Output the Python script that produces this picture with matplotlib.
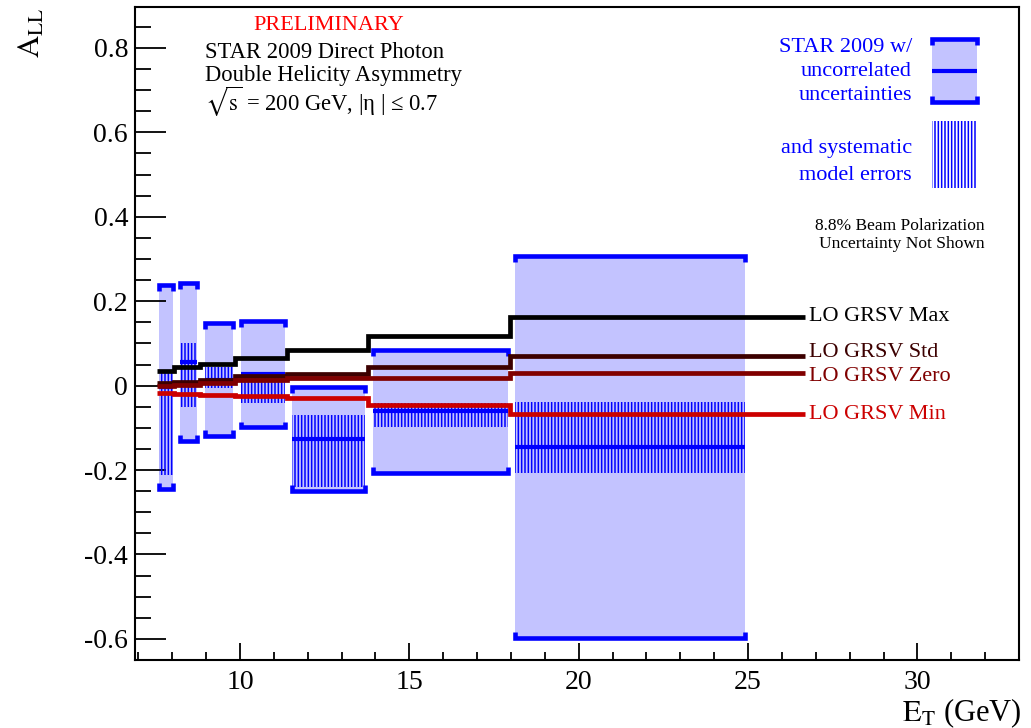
import matplotlib
matplotlib.use('Agg')
import matplotlib.pyplot as plt
from matplotlib.patches import Rectangle
from matplotlib.ticker import MultipleLocator, FuncFormatter

plt.rcParams['font.family'] = 'serif'
plt.rcParams['font.serif'] = ['Liberation Serif', 'DejaVu Serif']
plt.rcParams['mathtext.fontset'] = 'stix'
plt.rcParams['axes.unicode_minus'] = False
plt.rcParams['hatch.linewidth'] = 1.1

W, H = 1031, 728

# STAR 2009 points: E_T extent of each box, A_LL, uncorrelated error, systematic band
box_lo = [7.62, 8.23, 8.97, 10.02, 11.53, 13.92, 18.11]
box_hi = [8.01, 8.74, 9.80, 11.33, 13.69, 17.91, 24.90]
all_val = [-0.003, 0.056, 0.014, 0.027, -0.126, -0.061, -0.145]
stat_err = [0.242, 0.187, 0.134, 0.126, 0.123, 0.146, 0.452]
sys_lo = [-0.212, -0.050, -0.005, -0.042, -0.240, -0.098, -0.207]
sys_hi = [0.032, 0.100, 0.045, 0.030, -0.069, -0.040, -0.038]

# LO GRSV predictions (step curves)
grsv_edges = [7.55, 8.05, 8.82, 9.85, 11.39, 13.78, 17.96, 26.67]
grsv_max = [0.035, 0.045, 0.051, 0.065, 0.084, 0.118, 0.163]
grsv_std = [0.006, 0.009, 0.013, 0.023, 0.028, 0.045, 0.071]
grsv_zero = [0.000, 0.002, 0.006, 0.013, 0.018, 0.019, 0.031]
grsv_min = [-0.018, -0.020, -0.022, -0.024, -0.029, -0.047, -0.068]

# name, values, colour, label nudge in points
curves = [('LO GRSV Max', grsv_max, '#000000', 0),
          ('LO GRSV Std', grsv_std, '#3c0000', 2),
          ('LO GRSV Zero', grsv_zero, '#800000', -3),
          ('LO GRSV Min', grsv_min, '#cc0000', 0)]

BLUE = '#0000ff'
FILL = '#c3c3ff'


def px(x, y):
    return x / W, 1 - y / H


def draw_point(ax, x0, x1, y, err, s_lo, s_hi, hook):
    ax.add_patch(Rectangle((x0, y - err), x1 - x0, 2 * err, facecolor=FILL,
                           edgecolor='none', zorder=1))
    ax.add_patch(Rectangle((x0, s_lo), x1 - x0, s_hi - s_lo, facecolor='none',
                           edgecolor=BLUE, hatch='|||||', linewidth=0, zorder=2))
    ax.plot([x0, x1], [y, y], color=BLUE, lw=3, solid_capstyle='butt', zorder=3)
    top, bot = y + err, y - err
    kw = dict(color=BLUE, lw=3.3, solid_capstyle='butt', solid_joinstyle='miter', zorder=3)
    ax.plot([x0, x0, x1, x1], [top - hook, top, top, top - hook], **kw)
    ax.plot([x0, x0, x1, x1], [bot + hook, bot, bot, bot + hook], **kw)


fig = plt.figure(figsize=(W / 100, H / 100), dpi=100)
ax = fig.add_axes([135 / W, 1 - 660 / H, (1019 - 135) / W, (660 - 7) / H])

for i in range(len(all_val)):
    draw_point(ax, box_lo[i], box_hi[i], all_val[i], stat_err[i], sys_lo[i], sys_hi[i], 0.014)

for name, vals, col, nudge in curves:
    ax.stairs(vals, grsv_edges, baseline=None, color=col, lw=3.4, zorder=4)
    ax.annotate(name, (grsv_edges[-1], vals[-1]), xytext=(3, nudge),
                textcoords='offset points', color=col, fontsize=16,
                ha='left', va='center')

ax.set_xlim(6.9, 33.0)
ax.set_ylim(-0.65, 0.897)
ax.xaxis.set_major_locator(MultipleLocator(5))
ax.xaxis.set_minor_locator(MultipleLocator(1))
ax.yaxis.set_major_locator(MultipleLocator(0.2))
ax.yaxis.set_minor_locator(MultipleLocator(0.05))
ax.xaxis.set_major_formatter(FuncFormatter(lambda v, p: '%d' % round(v)))
ax.yaxis.set_major_formatter(FuncFormatter(lambda v, p: '0' if abs(v) < 1e-9 else '%.1f' % v))
ax.tick_params(axis='y', which='major', direction='in', length=22, width=1.3, labelsize=20, pad=5)
ax.tick_params(axis='y', which='minor', direction='in', length=11.5, width=1.3)
ax.tick_params(axis='x', which='major', direction='in', length=12, width=1.3, labelsize=20, pad=7)
ax.tick_params(axis='x', which='minor', direction='in', length=6, width=1.3)
for sp in ax.spines.values():
    sp.set_linewidth(1.5)

# legend key
legax = fig.add_axes([925 / W, 1 - 195 / H, 60 / W, 165 / H])
legax.set_xlim(0, 60)
legax.set_ylim(0, 165)
legax.axis('off')
draw_point(legax, 6.7, 52.3, 124.5, 31.5, 7, 74, 6)

# labels and annotations
fig.text(*px(329, 25), 'PRELIMINARY', color='#ff0000', fontsize=16, ha='center', va='center')
fig.text(*px(205, 52), 'STAR 2009 Direct Photon', fontsize=16.3, ha='left', va='center')
fig.text(*px(205, 76), 'Double Helicity Asymmetry', fontsize=16.3, ha='left', va='center')
fig.text(*px(205, 102), r'$\sqrt{\mathrm{s}}$ = 200 GeV, |η | ≤ 0.7', fontsize=16.3,
         ha='left', va='center')

for txt, y in [('STAR 2009 w/', 47), ('uncorrelated', 72), ('uncertainties', 95),
               ('and systematic', 148), ('model errors', 176)]:
    fig.text(*px(912, y), txt, color=BLUE, fontsize=16, ha='right', va='center')

fig.text(*px(985, 226), '8.8% Beam Polarization', fontsize=12.5, ha='right', va='center')
fig.text(*px(985, 244), 'Uncertainty Not Shown', fontsize=12.5, ha='right', va='center')

fig.text(*px(1022, 721), r'$\mathrm{E_{T}}$ (GeV)', fontsize=22, ha='right', va='baseline')
fig.text(*px(32, 8), r'$\mathrm{A_{LL}}$', fontsize=22, rotation=90, ha='center', va='top')

fig.savefig('out.png', dpi=100)
